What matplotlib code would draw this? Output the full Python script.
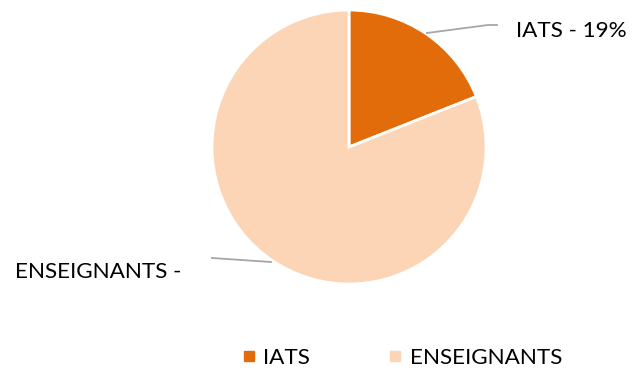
import matplotlib
matplotlib.use("Agg")
import matplotlib.pyplot as plt
from matplotlib.lines import Line2D

plt.rcParams["font.family"] = ["Lato", "DejaVu Sans"]

categories = ["IATS", "ENSEIGNANTS"]
shares = [19, 81]
slice_labels = ["IATS - 19%", "ENSEIGNANTS -"]
colors = ["#E36C0A", "#FBD5B5"]

W, H = 633, 372
FS = 16.2
fig = plt.figure(figsize=(W / 100, H / 100), dpi=100)

# pie centred at (349, 147) px from top-left, radius 137 px
cx, cy, r = 349, H - 147, 137
ax = fig.add_axes([(cx - r) / W, (cy - r) / H, 2 * r / W, 2 * r / H])
wedges, _ = ax.pie(shares, colors=colors, startangle=90, counterclock=False,
                   radius=1.0, wedgeprops=dict(edgecolor="white", linewidth=2))
ax.set_xlim(-1, 1)
ax.set_ylim(-1, 1)
ax.set_aspect("equal")
ax.axis("off")

def px(x, y):
    return (x / W, 1 - y / H)

line_kw = dict(color="#A6A6A6", lw=1.3)
# IATS leader line and label
fig.add_artist(Line2D([427 / W, 488 / W, 497 / W],
                      [1 - 33 / H, 1 - 25 / H, 1 - 25 / H],
                      transform=fig.transFigure, **line_kw))
fig.text(*px(516, 31), slice_labels[0], fontsize=FS, va="center", ha="left")
# ENSEIGNANTS leader line and label
fig.add_artist(Line2D([212 / W, 271 / W], [1 - 258 / H, 1 - 262 / H],
                      transform=fig.transFigure, **line_kw))
fig.text(*px(15, 272), slice_labels[1], fontsize=FS, va="center", ha="left")

handles = [Line2D([], [], marker="s", linestyle="none", markersize=6.5,
                  markerfacecolor=c, markeredgecolor=c) for c in colors]
fig.legend(handles, categories, loc="center", bbox_to_anchor=(402 / W, 1 - 358 / H),
           ncol=2, frameon=False, fontsize=FS, handletextpad=0.34,
           columnspacing=3.5, handlelength=0.6, borderpad=0.2)

fig.savefig("out.png", dpi=100)
